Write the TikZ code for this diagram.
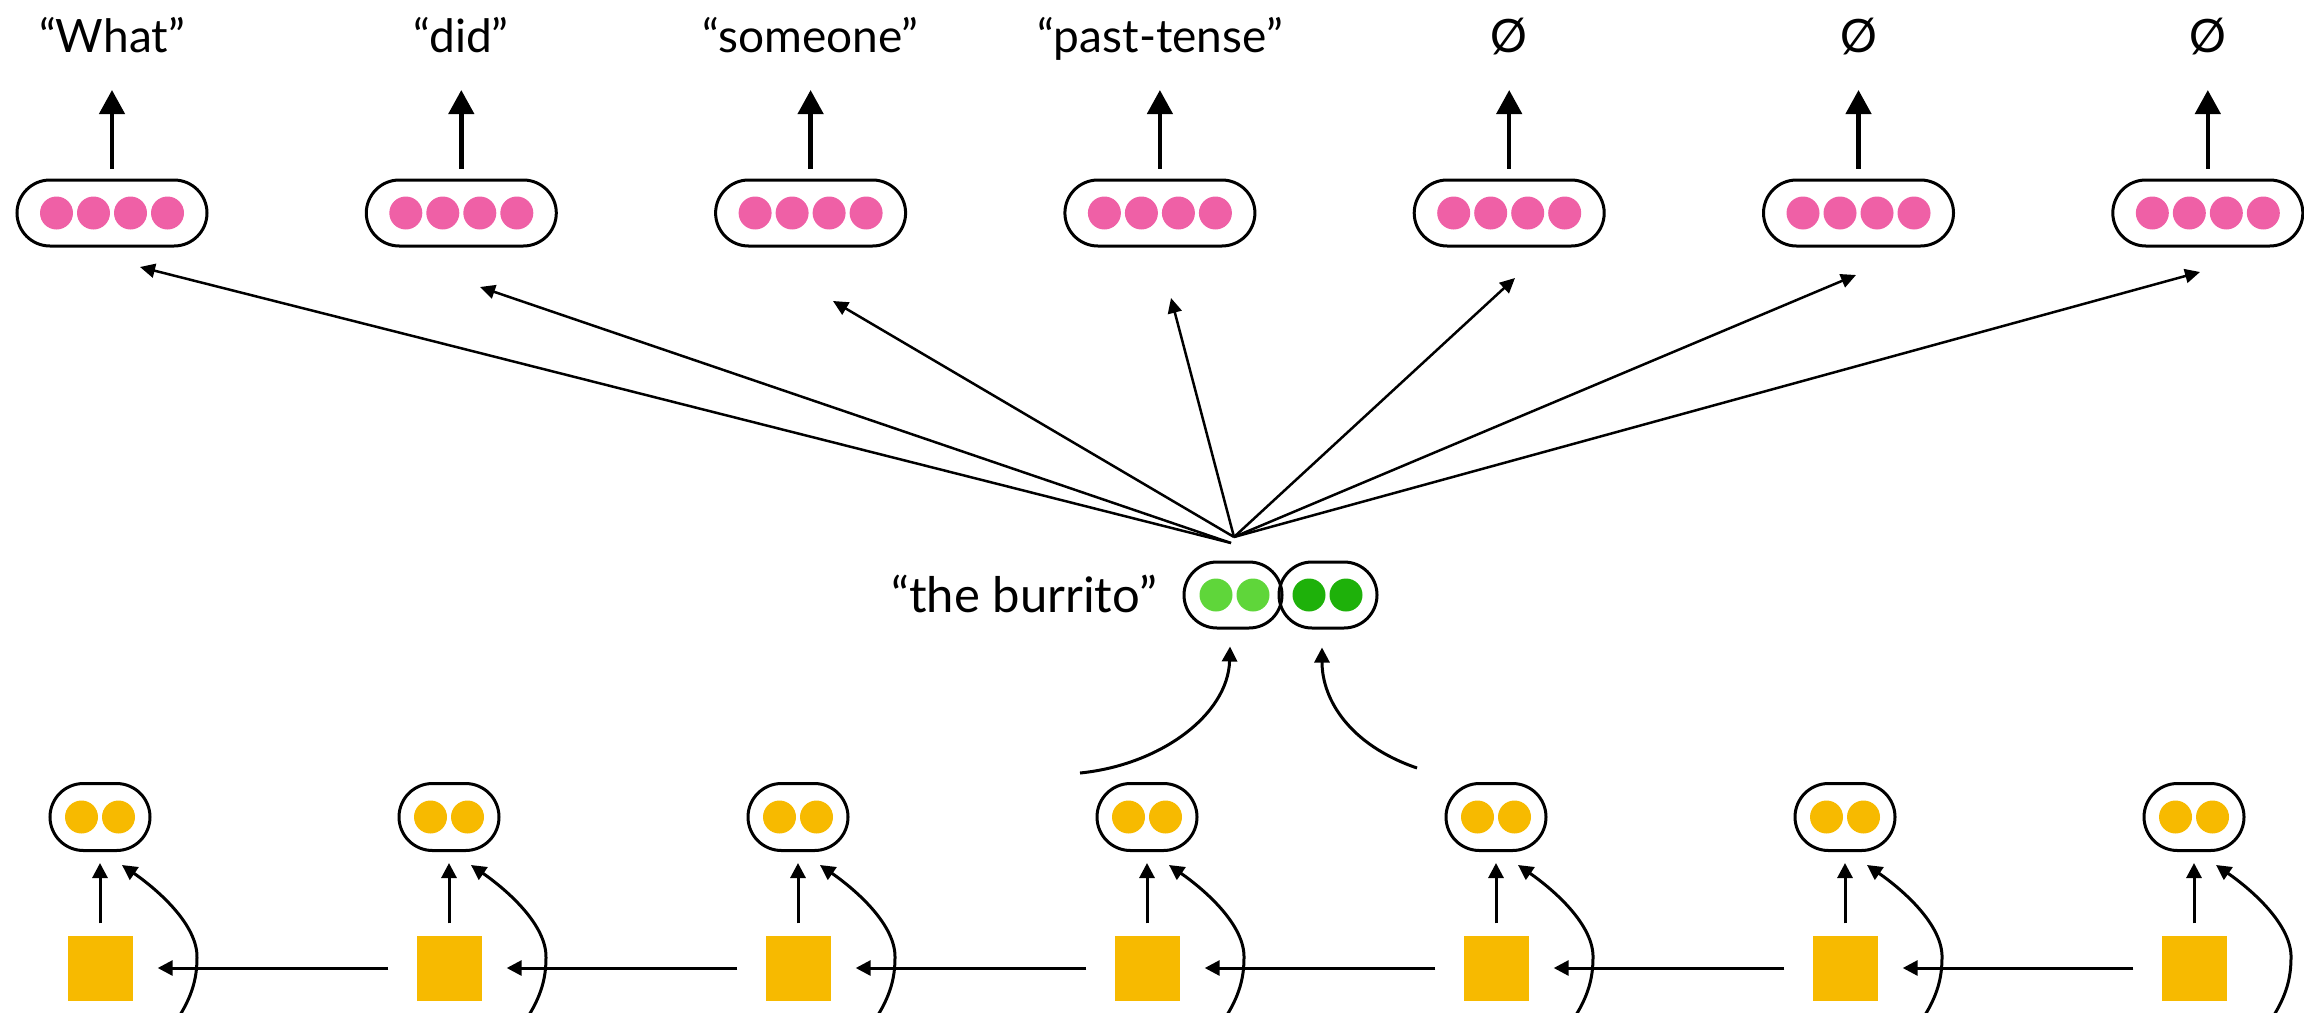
\documentclass[tikz,border=0pt]{standalone}
\usepackage{fontspec}
\setmainfont{Lato}
\usetikzlibrary{arrows.meta}
\definecolor{pinkc}{RGB}{239,96,166}
\definecolor{yelc}{RGB}{247,186,0}
\definecolor{lgreen}{RGB}{95,214,58}
\definecolor{dgreen}{RGB}{30,177,10}
\begin{document}
\begin{tikzpicture}[x=1pt,y=-1pt,
  word/.style={font=\fontsize{46}{55}\selectfont, inner sep=0pt, anchor=base},
  pill/.style={draw, line width=3pt, rounded corners=33pt, minimum height=66pt, inner sep=0pt},
  pinkbox/.style={pill, minimum width=190pt},
  greenbox/.style={pill, minimum width=98pt},
  yelbox/.style={pill, minimum width=100pt, minimum height=67pt, rounded corners=33.5pt},
  yelsq/.style={fill=yelc, minimum size=65pt, inner sep=0pt},
  toparrow/.style={line width=4.5pt, -{Triangle[length=24pt,width=25pt]}},
  fanarrow/.style={line width=2.5pt, -{Triangle[length=15pt,width=14pt]}},
  arr/.style={line width=3pt, -{Triangle[length=15pt,width=15pt]}},
  curvearr/.style={line width=3pt, -{Triangle[length=15pt,width=15pt]}}
]
\useasboundingbox (0,0) rectangle (2304,1012);

% ---- top row: output words and pink vectors
\foreach \i/\lab in {1/{“What”},2/{“did”},3/{“someone”},4/{“past-tense”},5/{Ø},6/{Ø},7/{Ø}} {
  \pgfmathsetmacro{\cx}{112+349.3*(\i-1)}
  \node[pinkbox] (p\i) at (\cx,213) {};
  \foreach \d in {-55.5,-18.5,18.5,55.5}
    \fill[pinkc] ([xshift=\d pt]p\i.center) circle (16.5pt);
  \node[word] (w\i) at (\cx,52) {\lab};
  \draw[toparrow] ([yshift=10pt]p\i.north) -- ([yshift=-38pt]w\i.base);
}

% ---- fan from the phrase vector
\coordinate (hubA) at (1231,543);
\coordinate (hub) at (1234,537);
\coordinate (t1) at (140,267);
\coordinate (t2) at (480,287);
\coordinate (t3) at (833,301);
\coordinate (t4) at (1171,298);
\coordinate (t5) at (1515,278);
\coordinate (t6) at (1856,275);
\coordinate (t7) at (2200,272);
\draw[fanarrow] (hubA) -- (t1);
\draw[fanarrow] (hubA) -- (t2);
\foreach \k in {3,...,7} \draw[fanarrow] (hub) -- (t\k);

% ---- phrase vector "the burrito"
\node[greenbox] (g1) at (1233,595) {};
\node[greenbox] (g2) at (1328,595) {};
\foreach \d in {-17,20} \fill[lgreen] ([xshift=\d pt]g1.center) circle (16.5pt);
\foreach \d in {-19,18} \fill[dgreen] ([xshift=\d pt]g2.center) circle (16.5pt);
\node[word, anchor=base east, font=\fontsize{49}{58}\selectfont] (phr) at (1157,612) {“the burrito”};

\coordinate (ls) at (1080,773);
\coordinate (rs) at (1417,768);
\draw[curvearr] (ls) .. controls (1160,765) and (1228,715) .. ([xshift=-3pt,yshift=-17pt]g1.south);
\draw[curvearr] (rs) .. controls (1350,745) and (1322,700) .. ([xshift=-6pt,yshift=-18pt]g2.south);

% ---- bottom row: encoder
\foreach \i in {1,...,7} {
  \pgfmathsetmacro{\cx}{100+349*(\i-1)}
  \node[yelbox] (y\i) at (\cx,817) {};
  \foreach \d in {-18.5,18.5}
    \fill[yelc] ([xshift=\d pt]y\i.center) circle (16.5pt);
  \node[yelsq] (s\i) at (\cx,968) {};
  \draw[arr] ([yshift=12pt]s\i.north) -- ([yshift=-11pt]y\i.south);
  \coordinate (b\i) at ({\cx+70},1030);
  \coordinate (m\i) at ({\cx+97},958);
  \draw[curvearr] (b\i) .. controls ({\cx+88},1005) and ({\cx+97},985) .. (m\i)
     .. controls ({\cx+98},925) and ({\cx+58},890) .. ([xshift=22pt,yshift=-13pt]y\i.south);
}
\foreach \i [evaluate=\i as \j using int(\i+1)] in {1,...,6}
  \draw[arr] ([xshift=-28pt]s\j.west) -- ([xshift=25pt]s\i.east);
\end{tikzpicture}
\end{document}
